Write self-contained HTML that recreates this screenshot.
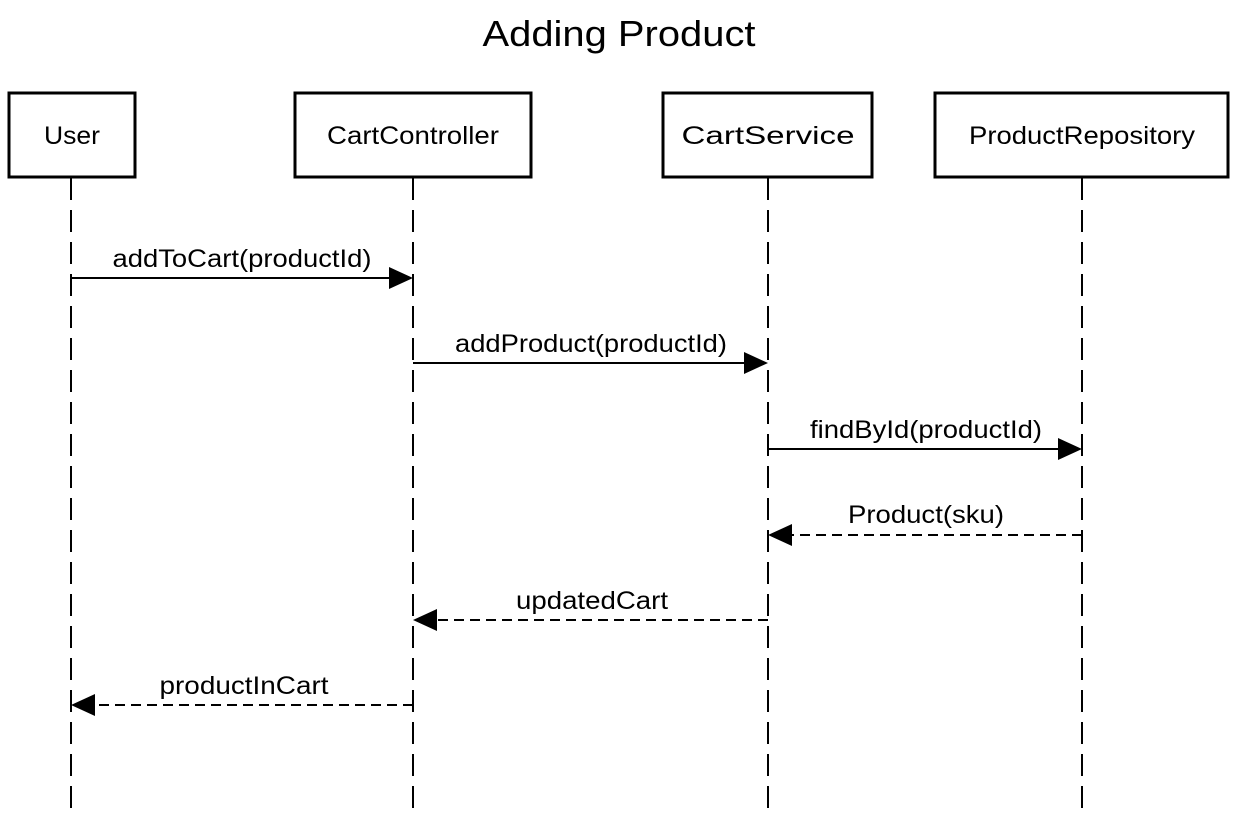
<!DOCTYPE html>
<html><head><style>body{margin:0;background:#fff}</style></head><body>
<svg width="1239" height="812" xmlns="http://www.w3.org/2000/svg" font-family="Liberation Sans, Arial, sans-serif">
<rect width="1239" height="812" fill="#fff"/>
<text x="619" y="46" font-size="36" text-anchor="middle" fill="#000" textLength="273" lengthAdjust="spacingAndGlyphs">Adding Product</text>
<g stroke="#000" stroke-width="2" stroke-dasharray="22,10" fill="none">
<line x1="71" y1="178" x2="71" y2="812"/>
<line x1="413" y1="178" x2="413" y2="812"/>
<line x1="768" y1="178" x2="768" y2="812"/>
<line x1="1082" y1="178" x2="1082" y2="812"/>
</g>
<g stroke="#000" stroke-width="3" fill="#fff">
<rect x="9" y="93" width="126" height="84"/>
<rect x="295" y="93" width="236" height="84"/>
<rect x="663" y="93" width="209" height="84"/>
<rect x="935" y="93" width="293" height="84"/>
</g>
<g font-size="25" text-anchor="middle" fill="#000" lengthAdjust="spacingAndGlyphs">
<text x="72" y="144" textLength="56" lengthAdjust="spacingAndGlyphs">User</text>
<text x="413" y="144" textLength="172" lengthAdjust="spacingAndGlyphs">CartController</text>
<text x="768" y="144" textLength="173" lengthAdjust="spacingAndGlyphs">CartService</text>
<text x="1082" y="144" textLength="226" lengthAdjust="spacingAndGlyphs">ProductRepository</text>
</g>
<g stroke="#000" stroke-width="2">
<line x1="71" y1="278" x2="390" y2="278"/>
<line x1="413" y1="363" x2="745" y2="363"/>
<line x1="768" y1="449" x2="1059" y2="449"/>
<line x1="1082" y1="535" x2="791" y2="535" stroke-dasharray="10,6"/>
<line x1="768" y1="620" x2="436" y2="620" stroke-dasharray="10,6"/>
<line x1="413" y1="705" x2="94" y2="705" stroke-dasharray="10,6"/>
</g>
<g fill="#000">
<polygon points="413,278 389,267 389,289"/>
<polygon points="768,363 744,352 744,374"/>
<polygon points="1082,449 1058,438 1058,460"/>
<polygon points="768,535 792,524 792,546"/>
<polygon points="413,620 437,609 437,631"/>
<polygon points="71,705 95,694 95,716"/>
</g>
<g font-size="25" text-anchor="middle" fill="#000">
<text x="242" y="267" textLength="259" lengthAdjust="spacingAndGlyphs">addToCart(productId)</text>
<text x="591" y="352" textLength="272" lengthAdjust="spacingAndGlyphs">addProduct(productId)</text>
<text x="926" y="438" textLength="232" lengthAdjust="spacingAndGlyphs">findById(productId)</text>
<text x="926" y="523" textLength="156" lengthAdjust="spacingAndGlyphs">Product(sku)</text>
<text x="592" y="609" textLength="152" lengthAdjust="spacingAndGlyphs">updatedCart</text>
<text x="244" y="694" textLength="169" lengthAdjust="spacingAndGlyphs">productInCart</text>
</g>
</svg>
</body></html>
